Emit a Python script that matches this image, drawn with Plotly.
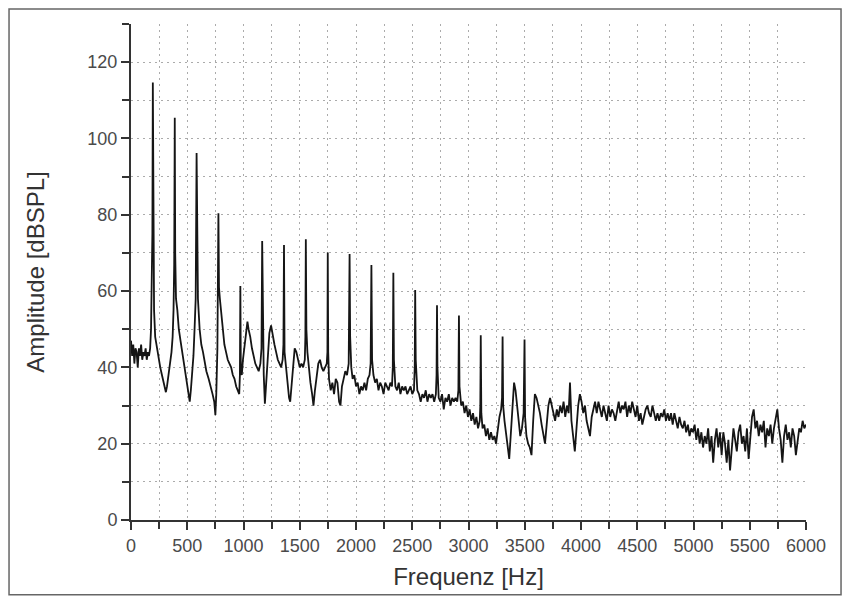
import plotly.graph_objects as go

# Spectrum (frequency in Hz, amplitude in dBSPL)
freq_hz = [
    0, 10, 20, 30, 40, 50, 60, 70, 80, 90, 100, 110, 120, 130, 140, 150, 160, 170, 178, 185, 190, 194,
    198, 205, 215, 230, 245, 260, 275, 290, 300, 310, 320, 330, 345, 360, 370, 378, 384, 389,
    393, 400, 412, 425, 440, 455, 470, 485, 500, 512, 522, 532, 545, 555, 565, 575, 583,
    588, 595, 610, 625, 640, 655, 670, 690, 710, 725, 740, 750, 758, 768, 777,
    782, 790, 800, 815, 830, 845, 860, 875, 890, 905, 920, 935, 950, 962, 968, 972,
    976, 985, 995, 1010, 1025, 1035, 1045, 1060, 1075, 1090, 1105, 1120, 1135, 1150, 1160, 1166,
    1172, 1180, 1190, 1200, 1215, 1230, 1245, 1260, 1275, 1290, 1305, 1320, 1335, 1348, 1355, 1360,
    1365, 1375, 1390, 1405, 1415, 1425, 1440, 1455, 1470, 1485, 1500, 1515, 1530, 1545, 1550, 1554,
    1559, 1568, 1580, 1595, 1610, 1622, 1635, 1650, 1665, 1680, 1695, 1710, 1725, 1740, 1746, 1749,
    1753, 1760, 1775, 1790, 1805, 1820, 1835, 1850, 1862, 1875, 1890, 1905, 1920, 1935, 1943,
    1948, 1958, 1970, 1985, 2000, 2015, 2030, 2045, 2060, 2075, 2090, 2105, 2120, 2130, 2137,
    2143, 2155, 2170, 2185, 2200, 2215, 2230, 2245, 2260, 2275, 2290, 2305, 2320, 2327, 2332,
    2337, 2350, 2365, 2380, 2395, 2410, 2425, 2440, 2455, 2470, 2485, 2500, 2515, 2522, 2526,
    2531, 2545, 2560, 2575, 2590, 2605, 2620, 2635, 2650, 2665, 2680, 2695, 2710, 2716, 2720,
    2724, 2735, 2750, 2765, 2780, 2795, 2810, 2825, 2840, 2855, 2870, 2885, 2900, 2910, 2915,
    2920, 2935, 2950, 2965, 2980, 2995, 3010, 3025, 3040, 3055, 3070, 3085, 3100, 3105, 3109,
    3114, 3125, 3140, 3155, 3170, 3185, 3200, 3215, 3230, 3245, 3260, 3275, 3290, 3298, 3303,
    3308, 3320, 3335, 3350, 3362, 3375, 3390, 3405, 3418, 3430, 3445, 3460, 3475, 3490, 3498,
    3503, 3515, 3530, 3545, 3560, 3575, 3590, 3605, 3620, 3635, 3650, 3665, 3680, 3695, 3710,
    3725, 3740, 3755, 3770, 3785, 3800, 3815, 3830, 3845, 3860, 3875, 3890, 3902, 3915, 3930,
    3945, 3960, 3975, 3990, 4005, 4020, 4035, 4050, 4065, 4080, 4095, 4110, 4125, 4140, 4155,
    4170, 4185, 4200, 4215, 4230, 4245, 4260, 4275, 4290, 4305, 4320, 4335, 4350, 4365, 4380,
    4395, 4410, 4425, 4440, 4455, 4470, 4485, 4500, 4515, 4530, 4545, 4560, 4575, 4590, 4605,
    4620, 4635, 4650, 4665, 4680, 4695, 4710, 4725, 4740, 4755, 4770, 4785, 4800, 4815, 4830,
    4845, 4860, 4875, 4890, 4905, 4920, 4935, 4950, 4965, 4980, 4995, 5010, 5025, 5040, 5055,
    5070, 5085, 5100, 5115, 5130, 5145, 5160, 5175, 5190, 5205, 5220, 5235, 5250, 5265, 5280,
    5295, 5310, 5325, 5340, 5355, 5370, 5385, 5400, 5415, 5430, 5445, 5460, 5475, 5490, 5505,
    5520, 5535, 5550, 5565, 5580, 5595, 5610, 5625, 5640, 5655, 5670, 5685, 5700, 5715, 5730,
    5745, 5760, 5775, 5790, 5805, 5820, 5835, 5850, 5865, 5880, 5895, 5910, 5925, 5940, 5955,
    5970, 5985, 6000,
]
amplitude_db = [
    47, 43, 46, 41, 45, 44, 40, 45, 43, 46, 42, 44, 43, 45, 42, 44, 43, 45, 50, 67, 75, 114.7,
    70, 55, 48, 45, 43, 40, 38, 36, 35, 33.5, 35, 37, 40, 44, 48, 55, 67, 105.4,
    70, 58, 55, 50, 47, 44, 41, 38, 36, 33, 31, 34, 38, 43, 50, 58, 96.2,
    62, 58, 50, 46, 44, 41, 39, 37, 35, 33, 31, 27.5, 33, 45, 80.4,
    61, 58, 55, 50, 46, 44, 42, 41, 40, 38, 37, 35, 34, 33, 38, 61.3,
    40, 38, 42, 46, 50, 52, 50, 48, 45, 43, 41, 40, 39, 41, 45, 73.1,
    45, 38, 30.5, 36, 44, 49, 51, 48, 46, 44, 42, 41, 40, 42, 46, 72.1,
    44, 41, 36, 32, 31, 35, 41, 45, 44, 42, 40, 41, 40, 42, 48, 73.6,
    50, 44, 40, 36, 33, 30, 34, 38, 41, 42, 40, 39, 40, 41, 44, 70.1,
    44, 37, 34, 36, 33, 37, 36, 31, 30, 35, 37, 39, 38, 41, 69.7,
    48, 40, 37, 38, 35, 36, 33, 35, 34, 36, 34, 37, 38, 41, 66.8,
    42, 38, 36, 37, 34, 36, 35, 33, 36, 35, 34, 36, 35, 40, 64.8,
    42, 35, 34, 36, 33, 35, 34, 35, 33, 34, 35, 33, 34, 40, 60.3,
    42, 34, 33, 31, 33, 32, 34, 31, 33, 32, 33, 31, 33, 38, 56.3,
    40, 32, 31, 33, 29, 32, 31, 33, 30, 32, 31, 32, 31, 34, 53.6,
    35, 30, 31, 28, 30, 27, 29, 26, 28, 25, 27, 24, 26, 30, 48.4,
    28, 24, 25, 22, 24, 21, 23, 21, 22, 20, 24, 27, 29, 32, 48.1,
    30, 26, 22, 19, 16, 22, 30, 36, 34, 30, 26, 22, 24, 28, 47.3,
    27, 22, 20, 19, 17, 26, 33, 32, 30, 28, 25, 22, 20, 25, 30,
    32, 30, 28, 26, 29, 27, 30, 28, 31, 27, 30, 28, 36, 26, 22,
    18, 24, 30, 33, 31, 28, 30, 26, 24, 22, 27, 29, 31, 28, 31,
    29, 27, 30, 28, 26, 30, 27, 29, 28, 26, 29, 31, 28, 30, 29,
    31, 27, 30, 28, 31, 29, 27, 30, 26, 28, 25, 27, 29, 30, 28,
    27, 30, 28, 26, 28, 26, 28, 27, 29, 26, 28, 26, 28, 25, 28,
    26, 24, 27, 25, 24, 26, 23, 25, 22, 24, 23, 25, 21, 24, 20,
    23, 19, 22, 20, 24, 18, 22, 15, 21, 24, 19, 23, 17, 23, 20,
    15, 21, 13, 20, 24, 21, 18, 23, 25, 20, 22, 18, 24, 16, 22,
    27, 29, 24, 26, 22, 25, 23, 26, 19, 24, 22, 25, 20, 24, 27,
    29, 24, 21, 15, 22, 25, 21, 23, 19, 24, 22, 17, 21, 24, 23,
    26, 24, 25,
]

x_tick_vals = [0, 500, 1000, 1500, 2000, 2500, 3000, 3500, 4000, 4500, 5000, 5500, 6000]
y_tick_vals = [0, 20, 40, 60, 80, 100, 120]

fig = go.Figure()
fig.add_trace(go.Scatter(
    x=freq_hz, y=amplitude_db, mode="lines",
    line=dict(color="#151515", width=1.8),
    showlegend=False, hoverinfo="skip",
))

axis_font = dict(family="Liberation Sans, Arial, sans-serif", size=18, color="#4a4a4a")
title_font = dict(family="Liberation Sans, Arial, sans-serif", size=24, color="#333333")
grid_style = dict(showgrid=True, gridcolor="#ababab", griddash="2px,4px", gridwidth=1)

fig.update_layout(
    width=834, height=590,
    margin=dict(l=123, r=36, t=16, b=76),
    paper_bgcolor="white", plot_bgcolor="white",
    xaxis=dict(
        range=[0, 6000], tickvals=x_tick_vals, ticktext=[str(v) for v in x_tick_vals],
        ticks="outside", ticklen=8, tickwidth=2, tickcolor="#333",
        showline=True, linecolor="#333", linewidth=2,
        minor=dict(dtick=250, tick0=0, ticks="outside", ticklen=7, tickwidth=2, tickcolor="#333", **grid_style),
        tickfont=axis_font, zeroline=False,
        title=dict(text="Frequenz [Hz]", font=title_font, standoff=14),
        **grid_style,
    ),
    yaxis=dict(
        range=[0, 130], tickvals=y_tick_vals, ticktext=[str(v) for v in y_tick_vals],
        ticks="outside", ticklen=8, tickwidth=2, tickcolor="#333",
        showline=True, linecolor="#333", linewidth=2,
        minor=dict(dtick=10, tick0=0, ticks="outside", ticklen=7, tickwidth=2, tickcolor="#333", **grid_style),
        tickfont=axis_font, zeroline=False,
        title=dict(text="Amplitude [dBSPL]", font=title_font, standoff=36),
        **grid_style,
    ),
    shapes=[dict(type="rect", xref="paper", yref="paper",
                 x0=-0.1807, x1=1.0519, y0=-0.1506, y1=1.0301,
                 line=dict(color="#666", width=1.5), layer="below")],
)

fig.write_html("out.html")
